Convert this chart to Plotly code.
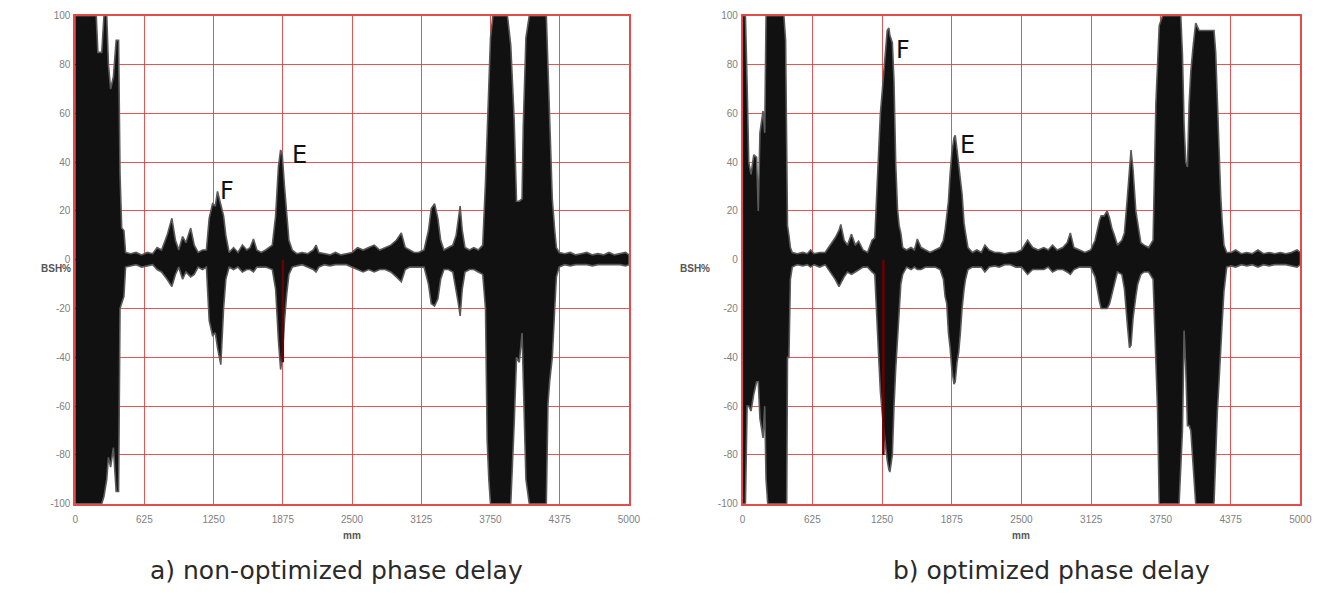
import plotly.graph_objects as go

# ---------------- data (envelope of the A-scan) ----------------
# panel a) non-optimized phase delay
a_mm = [0, 190, 205, 240, 260, 285, 300, 320, 345, 370, 392, 405, 420, 440, 455, 500, 550, 600, 650, 700,
        740, 780, 830, 873, 905, 935, 970, 1000, 1043, 1075, 1110, 1150, 1185, 1210, 1240, 1265, 1285, 1315,
        1340, 1360, 1390, 1430, 1470, 1510, 1550, 1580, 1610, 1640, 1680, 1720, 1780, 1810, 1835, 1855, 1870,
        1890, 1910, 1930, 1960, 2000, 2050, 2100, 2150, 2175, 2200, 2250, 2300, 2350, 2400, 2450, 2500, 2550,
        2600, 2650, 2700, 2750, 2800, 2850, 2900, 2945, 2980, 3020, 3060, 3100, 3150, 3190, 3215, 3245, 3275,
        3300, 3330, 3370, 3410, 3440, 3460, 3476, 3495, 3520, 3560, 3600, 3640, 3680, 3705, 3720, 3735, 3750,
        3772, 3903, 3933, 3964, 3985, 4010, 4035, 4046, 4070, 4100, 4254, 4269, 4284, 4308, 4330, 4345, 4370,
        4420, 4470, 4520, 4570, 4620, 4670, 4720, 4770, 4820, 4870, 4920, 4970, 5000]
a_upper = [100, 100, 85, 85, 100, 100, 80, 70, 75, 90, 90, 35, 13, 12, 3, 2.5, 3, 2, 3, 2.5,
           5, 4, 10, 17, 8, 4, 9.5, 7, 13, 6, 3, 4, 4, 17, 23, 22, 28, 22,
           18, 10, 3, 5, 3, 6, 4, 5, 8.5, 4, 3, 4, 6, 18, 38, 45, 43,
           30, 18, 8, 4, 2.5, 3, 2.5, 4, 6, 3, 2.5, 2, 3, 2, 2.5, 3, 5,
           4, 5, 6, 4, 5, 6, 8, 11, 5, 4, 3, 3, 4, 12, 21, 23, 17,
           8, 4, 5, 6, 10, 16, 22, 12, 5, 4, 5, 4, 6, 32, 50, 70, 91,
           100, 100, 88, 57, 24, 24, 25, 55, 91, 100, 100, 80, 64, 25, 12, 5, 3,
           2.5, 3, 2, 2.5, 3, 2, 2.5, 2, 3, 2, 2.5, 3, 2]
a_lower = [-100, -100, -100, -100, -97, -90, -81, -85, -77, -95, -95, -20, -18, -15, -3, -2.5, -2, -3, -2.5, -2,
           -4, -5, -8, -11, -6, -3, -8, -5, -7, -6, -3, -4, -3, -25, -31, -30, -36, -43,
           -20, -8, -3, -4, -3, -5, -4, -4, -5, -3, -3, -3, -4, -12, -33, -45, -40,
           -25, -14, -6, -3, -2.5, -2, -3, -4, -5, -3, -2, -2.5, -2, -2, -2, -3, -4,
           -5, -4, -5, -4, -4, -5, -7, -9, -4, -3, -3, -3, -3, -10, -18, -19, -16,
           -8, -4, -4, -5, -12, -18, -23, -12, -5, -4, -4, -5, -6, -20, -74, -90, -100,
           -100, -100, -100, -67, -40, -42, -30, -55, -90, -100, -100, -59, -50, -40, -20, -7, -3,
           -2, -2.5, -2, -2, -2, -2.5, -2, -2, -2, -2, -2, -2.5, -2]

# panel b) optimized phase delay
b_mm = [0, 25, 40, 55, 75, 100, 125, 140, 155, 183, 198, 210, 225, 370, 385, 395, 402, 415, 428, 445,
        490, 540, 580, 609, 640, 690, 740, 770, 800, 830, 864, 880, 910, 940, 976, 1010, 1040, 1080, 1120,
        1160, 1185, 1205, 1220, 1235, 1250, 1266, 1281, 1296, 1311, 1320, 1342, 1357, 1372, 1388, 1403, 1418,
        1435, 1470, 1510, 1540, 1566, 1600, 1640, 1680, 1725, 1770, 1800, 1815, 1830, 1845, 1860, 1876, 1895,
        1906, 1922, 1937, 1952, 1967, 1985, 1998, 2020, 2060, 2100, 2140, 2172, 2210, 2260, 2300, 2350, 2400,
        2450, 2500, 2555, 2600, 2650, 2700, 2740, 2778, 2820, 2870, 2910, 2938, 2970, 3020, 3070, 3120, 3160,
        3199, 3214, 3241, 3268, 3290, 3310, 3333, 3360, 3400, 3423, 3450, 3468, 3482, 3500, 3525, 3542, 3570,
        3600, 3640, 3680, 3705, 3720, 3735, 3765, 3913, 3928, 3943, 3958, 3973, 3988, 4003, 4018, 4040, 4062,
        4092, 4226, 4241, 4256, 4271, 4286, 4300, 4315, 4340, 4380, 4420, 4470, 4520, 4570, 4620, 4670, 4720,
        4770, 4820, 4870, 4920, 4970, 5000]
b_upper = [100, 100, 72, 40, 35, 43, 42, 20, 52, 61, 52, 100, 100, 100, 90, 18, 14, 10, 5, 3,
           2.5, 3, 2.5, 4, 2.5, 3, 3, 5, 7, 9, 12, 14.5, 8, 6, 10.5, 6, 7.6, 4, 3,
           8, 9, 30, 51, 60, 68, 78, 85, 94, 95, 92, 89, 73, 40, 21, 14, 11,
           5, 4, 5, 4, 8.5, 5, 4, 3, 4, 5, 8, 12, 18, 24, 35, 44, 50,
           51, 45, 40, 33, 27, 15, 11, 5, 3, 4, 3, 6, 4, 3, 3, 2.5, 3,
           3, 4, 8, 5, 4, 5, 4, 6, 4, 5, 7, 11, 5, 4, 3, 4, 8,
           16, 18, 18, 20, 17, 13, 10, 6, 8, 11, 26, 38, 45, 37, 20, 15, 7,
           6, 5, 8, 64, 80, 96, 100, 100, 100, 84, 55, 40, 38, 64, 77, 88, 97,
           94, 94, 85, 64, 40, 26, 15, 6, 3, 3, 4, 2.5, 3, 2.5, 4, 2.5, 3,
           2.5, 3, 2.5, 3, 4, 3]
b_lower = [-100, -100, -60, -60, -62, -55, -50, -50, -65, -73, -60, -90, -100, -100, -100, -100, -40, -40, -8, -3,
           -2, -2.5, -2, -3, -2, -3, -2, -4, -6, -8, -11, -10, -7, -5, -6, -5, -4, -3, -3,
           -5, -6, -25, -40, -54, -62, -70, -77, -82, -86, -87, -80, -60, -45, -34, -20, -10,
           -6, -3, -4, -3, -4, -4, -3, -3, -3, -4, -8, -15, -18, -30, -36, -45, -51,
           -50, -42, -38, -30, -20, -12, -8, -4, -3, -3, -3, -5, -3, -2.5, -3, -2, -2,
           -3, -3, -6, -4, -4, -4, -3, -5, -4, -4, -5, -6, -4, -3, -3, -3, -7,
           -17, -20, -20, -20, -18, -14, -10, -5, -6, -12, -27, -36, -35, -24, -15, -10, -6,
           -5, -5, -8, -40, -62, -100, -100, -100, -89, -70, -29, -45, -68, -68, -70, -85, -100,
           -100, -100, -81, -62, -50, -40, -25, -13, -3, -2.5, -3, -2, -2.5, -2, -3, -2, -2.5,
           -2, -2, -2, -2.5, -3, -2]

# gate markers (dark red sticks inside the echoes)
a_gate_mm, a_gate_depth = 1875, -42
b_gate_mm, b_gate_depth = 1262, -80

x_ticks = [0, 625, 1250, 1875, 2500, 3125, 3750, 4375, 5000]
y_ticks = [-100, -80, -60, -40, -20, 0, 20, 40, 60, 80, 100]
captions = ["a) non-optimized phase delay", "b) optimized phase delay"]
peak_labels_a = [("F", 1375, 28), ("E", 2027, 43)]
peak_labels_b = [("F", 1436, 86), ("E", 2012, 47)]

# ---------------- figure ----------------
W, H = 1342, 594
fig = go.Figure()


def add_wave(xs, up, lo, xa, ya):
    fig.add_trace(go.Scatter(
        x=xs + xs[::-1], y=up + lo[::-1], mode="lines", fill="toself",
        fillcolor="#111111", line=dict(color="#5a5a5a", width=1.6),
        xaxis=xa, yaxis=ya, hoverinfo="skip", showlegend=False))


add_wave(a_mm, a_upper, a_lower, "x", "y")
add_wave(b_mm, b_upper, b_lower, "x2", "y2")

for gx, gd, xa, ya in [(a_gate_mm, a_gate_depth, "x", "y"), (b_gate_mm, b_gate_depth, "x2", "y2")]:
    fig.add_trace(go.Scatter(x=[gx, gx], y=[0, gd], mode="lines",
                             line=dict(color="#6a0000", width=2.5),
                             xaxis=xa, yaxis=ya, hoverinfo="skip", showlegend=False))

grid_col = "rgba(225,55,55,0.85)"
tick_font = dict(family="Liberation Sans, Arial", size=10, color="#808080")
ax_common = dict(showgrid=True, gridcolor=grid_col, gridwidth=1, zeroline=False,
                 showline=True, linecolor="rgba(225,55,55,0.9)", linewidth=1.5, mirror=True,
                 ticks="", tickfont=tick_font, fixedrange=True)

y_dom = [1 - 508 / H, 1 - 10 / H]
fig.update_layout(
    width=W, height=H, margin=dict(l=0, r=0, t=0, b=0),
    paper_bgcolor="white", plot_bgcolor="white",
    xaxis=dict(domain=[73 / W, 633 / W], range=[0, 5000], tickvals=x_ticks,
               ticktext=[str(v) for v in x_ticks], anchor="y", ticklabelstandoff=6, **ax_common),
    yaxis=dict(domain=y_dom, range=[-100, 100], tickvals=y_ticks,
               ticktext=[str(v) for v in y_ticks], anchor="x", ticklabelstandoff=1, **ax_common),
    xaxis2=dict(domain=[748 / W, 1312 / W], range=[0, 5000], tickvals=x_ticks,
                ticktext=[str(v) for v in x_ticks], anchor="y2", ticklabelstandoff=6, **ax_common),
    yaxis2=dict(domain=y_dom, range=[-100, 100], tickvals=y_ticks,
                ticktext=[str(v) for v in y_ticks], anchor="x2", ticklabelstandoff=1, **ax_common),
)

ann = []
label_font = dict(family="DejaVu Sans", size=24, color="#111111")
for txt, x, y in peak_labels_a:
    ann.append(dict(text=txt, x=x, y=y, xref="x", yref="y", showarrow=False, font=label_font,
                    xanchor="center", yanchor="middle"))
for txt, x, y in peak_labels_b:
    ann.append(dict(text=txt, x=x, y=y, xref="x2", yref="y2", showarrow=False, font=label_font,
                    xanchor="center", yanchor="middle"))

small_bold = dict(family="Liberation Sans, Arial", size=10, color="#555555")
for cx, bx in [(353 / W, 54 / W), (1030 / W, 700 / W)]:
    ann.append(dict(text="<b>mm</b>", x=cx, y=1 - 540 / H, xref="paper", yref="paper",
                    showarrow=False, font=small_bold, xanchor="center", yanchor="middle"))
    ann.append(dict(text="<b>BSH%</b>", x=bx, y=1 - 268 / H, xref="paper", yref="paper",
                    showarrow=False, font=small_bold, xanchor="center", yanchor="middle"))

cap_font = dict(family="DejaVu Sans", size=25, color="#2a2a2a")
ann.append(dict(text=captions[0], x=337 / W, y=1 - 576 / H, xref="paper", yref="paper",
                showarrow=False, font=cap_font, xanchor="center", yanchor="middle"))
ann.append(dict(text=captions[1], x=1060 / W, y=1 - 576 / H, xref="paper", yref="paper",
                showarrow=False, font=cap_font, xanchor="center", yanchor="middle"))
fig.update_layout(annotations=ann)

fig.write_html("out.html")
